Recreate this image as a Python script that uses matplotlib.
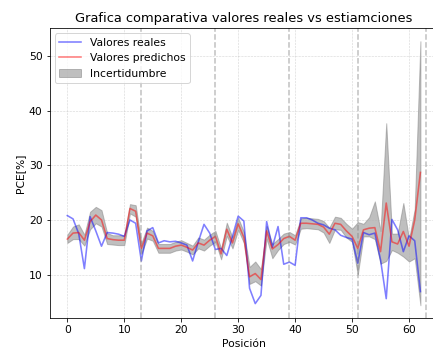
import numpy as np
import matplotlib
matplotlib.use('Agg')
import matplotlib.pyplot as plt

plt.rcParams.update({'font.size': 10.8})

# PCE real vs predicted per position, with uncertainty band
posicion = np.arange(63)

pce_real = [20.8, 20.2, 17.5, 11.1, 20.6, 18.0, 15.2, 17.7, 17.6, 17.4,
            17.0, 20.0, 19.4, 12.5, 18.0, 18.6, 15.8, 16.2, 16.0, 16.1,
            15.8, 15.4, 12.5, 16.0, 19.2, 17.6, 14.6, 14.8, 13.5, 17.0,
            20.7, 19.8, 7.5, 4.7, 6.2, 19.7, 15.0, 18.8, 11.9, 12.3,
            11.7, 20.4, 20.4, 20.0, 19.4, 19.1, 18.5, 18.2, 17.2, 16.8,
            16.5, 12.1, 17.7, 17.3, 17.6, 12.7, 5.6, 20.1, 18.2, 14.2,
            17.1, 16.2, 6.9]

pce_pred = [16.5, 17.6, 17.7, 16.3, 19.7, 20.9, 20.0, 16.6, 16.4, 16.3,
            16.3, 22.1, 21.6, 14.8, 17.6, 17.1, 14.8, 14.8, 14.8, 15.2,
            15.4, 15.0, 14.5, 15.8, 15.4, 16.3, 17.0, 13.8, 18.3, 15.8,
            19.3, 16.8, 9.6, 10.2, 9.1, 18.0, 14.7, 15.5, 16.6, 17.0,
            16.3, 19.4, 19.4, 19.3, 19.2, 18.7, 17.4, 19.4, 19.2, 18.0,
            17.0, 14.8, 18.2, 18.5, 18.6, 14.2, 23.1, 16.0, 15.6, 17.9,
            15.2, 20.0, 28.7]

pce_low = [15.8, 16.5, 16.5, 15.3, 18.3, 19.4, 18.8, 15.6, 15.5, 15.4,
           15.4, 21.2, 20.6, 13.8, 16.6, 16.2, 14.0, 14.0, 14.0, 14.4,
           14.6, 14.2, 13.7, 14.8, 14.4, 15.3, 16.0, 12.8, 17.1, 14.8,
           18.2, 15.8, 8.3, 8.8, 8.0, 16.6, 13.0, 14.5, 15.6, 16.0,
           15.5, 18.4, 18.5, 18.4, 18.3, 17.7, 15.8, 18.3, 18.2, 16.8,
           16.0, 10.0, 17.0, 17.0, 16.5, 12.0, 12.5, 14.5, 14.0, 13.3,
           12.4, 13.0, 4.4]

pce_high = [17.3, 18.8, 19.2, 17.3, 21.5, 22.4, 21.8, 17.6, 17.2, 17.2,
            17.2, 22.9, 22.7, 15.8, 18.6, 18.0, 15.6, 15.6, 15.6, 16.0,
            16.3, 15.8, 15.3, 16.8, 16.4, 17.3, 18.0, 14.8, 19.5, 16.8,
            20.4, 17.8, 11.4, 12.4, 11.0, 18.9, 15.6, 16.5, 17.5, 17.8,
            17.2, 20.3, 20.4, 20.3, 20.2, 19.8, 18.6, 20.6, 20.4, 19.3,
            18.4, 19.6, 19.3, 20.5, 23.4, 18.0, 37.7, 17.5, 17.5, 23.1,
            16.5, 22.0, 52.7]

# limits between groups of positions
cortes = [13, 26, 39, 51, 63]

fig = plt.figure(figsize=(433 / 72, 355 / 72), dpi=72)
ax = fig.add_axes([0.1147, 0.103, 0.897, 0.818])

ax.plot(posicion, pce_real, color='blue', alpha=0.5, lw=1.6,
        label='Valores reales')
ax.plot(posicion, pce_pred, color='red', alpha=0.5, lw=1.6,
        label='Valores predichos')
ax.fill_between(posicion, pce_low, pce_high, color='gray', alpha=0.5,
                label='Incertidumbre')

for c in cortes:
    ax.axvline(c, color='gray', linestyle='--', alpha=0.5, lw=1.5)

ax.grid(True, linestyle='--', linewidth=0.6, alpha=0.5)
ax.set_title('Grafica comparativa valores reales vs estiamciones', fontsize=13)
ax.set_xlabel('Posición')
ax.set_ylabel('PCE[%]')
ax.legend(loc='upper left')

fig.savefig('out.png', dpi=72)
